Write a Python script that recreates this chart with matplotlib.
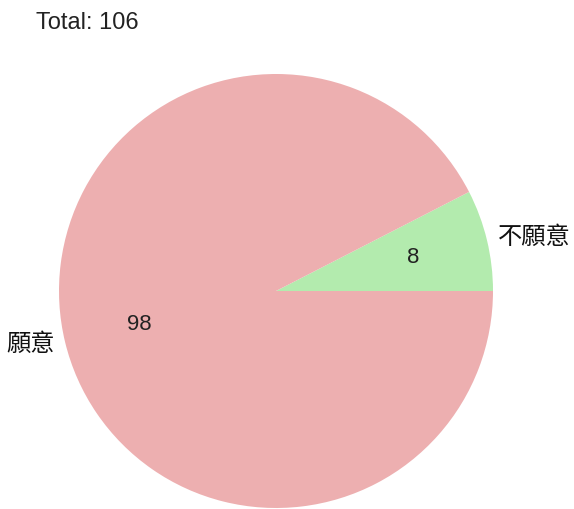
import matplotlib
matplotlib.use("Agg")
import matplotlib.pyplot as plt

plt.rcParams['font.family'] = ['Liberation Sans', 'Noto Sans CJK TC', 'DejaVu Sans']

labels = ['不願意', '願意']
counts = [8, 98]
colors = ['#b3ebae', '#edafb0']
total = sum(counts)

W, H = 574, 509
fig = plt.figure(figsize=(W / 100, H / 100), dpi=100)

# pie centre and radius in pixels
cx, cy, r = 276, 291, 217
ax = fig.add_axes([(cx - r) / W, (H - cy - r) / H, 2 * r / W, 2 * r / H])

wedges, texts, autotexts = ax.pie(
    counts, labels=labels, colors=colors, startangle=0, counterclock=True,
    autopct=lambda p: '{:.0f}'.format(p * total / 100.0),
    labeldistance=1.05, pctdistance=0.65,
    wedgeprops=dict(linewidth=0),
    textprops=dict(fontsize=17.5, color='#111111'))
for t in autotexts:
    t.set_color('#222222')
    t.set_fontsize(16)
ax.set_xlim(-1, 1)
ax.set_ylim(-1, 1)
ax.set_aspect('equal')
ax.axis('off')

fig.text(36 / W, 1 - 12 / H, 'Total: {}'.format(total), fontsize=17,
         color='#222222', ha='left', va='top')

fig.savefig('out.png', dpi=100, facecolor='white')
